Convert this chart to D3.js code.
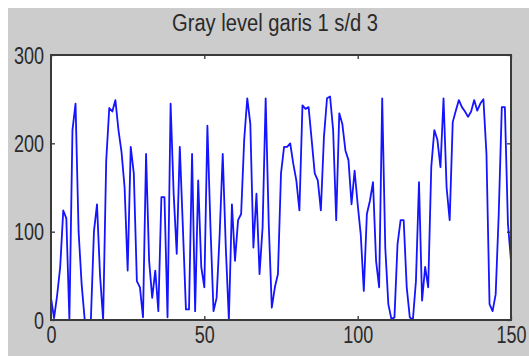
<!DOCTYPE html>
<html>
<head>
<meta charset="utf-8">
<script src="https://cdn.jsdelivr.net/npm/d3@7"></script>
<style>
  html, body { margin: 0; padding: 0; background: #fff; }
  svg { display: block; }
  text { font-family: "Liberation Sans", Arial, sans-serif; }
</style>
</head>
<body>
<svg id="chart"></svg>
<script>
const title = "Gray level garis 1 s/d 3";
const xTicks = [0, 50, 100, 150];
const yTicks = [0, 100, 200, 300];

// gray level per column, index 0..150
const grayLevel = [
  25, 2, 28, 60, 124, 115, 0, 215, 245, 100,
  40, 0, 0, 0, 100, 131, 50, 0, 180, 240,
  236, 249, 215, 190, 150, 56, 196, 166, 44, 37,
  3, 188, 67, 25, 56, 10, 139, 139, 3, 245,
  143, 75, 196, 105, 12, 12, 188, 10, 158, 60,
  37, 220, 105, 10, 25, 97, 188, 82, 0, 131,
  67, 113, 120, 204, 251, 222, 82, 143, 52, 105,
  251, 109, 14, 37, 52, 166, 196, 196, 200, 177,
  158, 124, 243, 239, 241, 204, 166, 158, 124, 207,
  251, 253, 215, 113, 234, 222, 192, 181, 131, 169,
  131, 97, 33, 120, 135, 156, 67, 37, 251, 82,
  18, 1, 3, 86, 113, 113, 37, 3, 0, 44,
  156, 22, 60, 37, 173, 215, 204, 173, 251, 150,
  113, 224, 237, 249, 241, 236, 230, 236, 249, 237,
  245, 250, 188, 18, 10, 29, 120, 241, 241, 109,
  67
];

const W = 529, H = 356;
const svg = d3.select("#chart").attr("width", W).attr("height", H);

// figure background (white strip at top/left like the source capture)
svg.append("rect").attr("width", W).attr("height", H).attr("fill", "#fff");
svg.append("rect").attr("x", 8).attr("y", 8).attr("width", W - 8).attr("height", H - 8).attr("fill", "#cccccc");

const x = d3.scaleLinear().domain([0, 150]).range([51, 511]);
const y = d3.scaleLinear().domain([0, 300]).range([320, 55]);

// axes area
svg.append("rect")
  .attr("x", x(0)).attr("y", y(300))
  .attr("width", x(150) - x(0)).attr("height", y(0) - y(300))
  .attr("fill", "#fff");

// data line
const line = d3.line()
  .x((d, i) => x(i))
  .y(d => y(d));

svg.append("path")
  .datum(grayLevel)
  .attr("d", line)
  .attr("fill", "none")
  .attr("stroke", "#1414ff")
  .attr("stroke-width", 1.8)
  .attr("stroke-linejoin", "round");

// ticks (MATLAB style, pointing inward)
const fontSize = 23;
const digitW = 10; // narrow glyphs like the source
const xAxis = svg.append("g")
  .attr("transform", `translate(0,${y(0)})`)
  .call(d3.axisBottom(x).tickValues(xTicks).tickSize(-4).tickPadding(13));
const yAxis = svg.append("g")
  .attr("transform", `translate(${x(0)},0)`)
  .call(d3.axisLeft(y).tickValues(yTicks).tickSize(-4).tickPadding(7));
svg.append("g")
  .attr("transform", `translate(0,${y(300)})`)
  .call(d3.axisTop(x).tickValues(xTicks).tickSize(-4).tickFormat(""));
svg.append("g")
  .attr("transform", `translate(${x(150)},0)`)
  .call(d3.axisRight(y).tickValues(yTicks).tickSize(-4).tickFormat(""));

svg.selectAll(".domain").remove();
svg.selectAll(".tick line").attr("stroke", "#222").attr("stroke-width", 1.2);
[xAxis, yAxis].forEach(g => {
  g.selectAll("text")
    .attr("font-size", fontSize)
    .attr("fill", "#2a2a2a")
    .attr("textLength", function () { return this.textContent.length * digitW; })
    .attr("lengthAdjust", "spacingAndGlyphs");
});
xAxis.selectAll("text").attr("dy", "0.42em");
yAxis.selectAll("text").attr("dy", "0.36em");

// box
svg.append("rect")
  .attr("x", x(0)).attr("y", y(300))
  .attr("width", x(150) - x(0)).attr("height", y(0) - y(300))
  .attr("fill", "none")
  .attr("stroke", "#3a3a3a")
  .attr("stroke-width", 2);

// title
svg.append("text")
  .attr("x", 275)
  .attr("y", 31)
  .attr("text-anchor", "middle")
  .attr("font-size", 23)
  .attr("fill", "#2a2a2a")
  .attr("textLength", 206)
  .attr("lengthAdjust", "spacingAndGlyphs")
  .text(title);
</script>
</body>
</html>
